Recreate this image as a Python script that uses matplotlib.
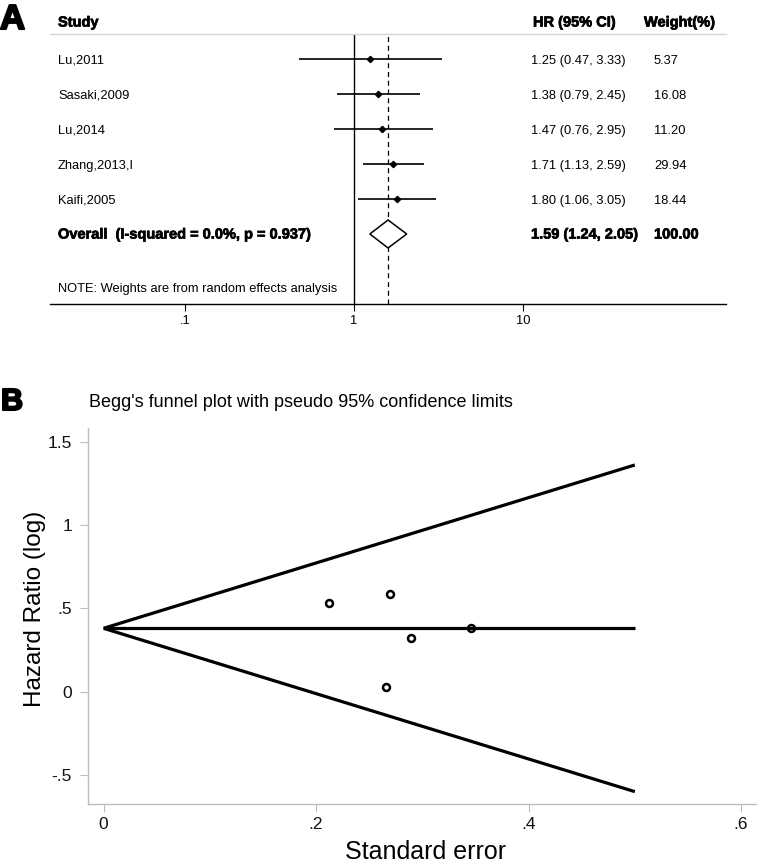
import matplotlib
matplotlib.use("Agg")
import matplotlib.pyplot as plt
import matplotlib.patheffects as pe
from matplotlib.ticker import NullLocator, FixedLocator, FixedFormatter
import matplotlib.transforms as mtrans

plt.rcParams['font.family'] = ['Liberation Sans', 'DejaVu Sans']

# ---------------- data: forest plot ----------------
studies = ['Lu,2011', 'Sasaki,2009', 'Lu,2014', 'Zhang,2013,I', 'Kaifi,2005']
hr = [1.25, 1.38, 1.47, 1.71, 1.80]
ci_lo = [0.47, 0.79, 0.76, 1.13, 1.06]
ci_hi = [3.33, 2.45, 2.95, 2.59, 3.05]
weights = [5.37, 16.08, 11.20, 29.94, 18.44]
overall_label = 'Overall  (I-squared = 0.0%, p = 0.937)'
overall_hr = 1.59
overall_lo = 1.24
overall_hi = 2.05
overall_weight = 100.00
forest_ticks = [0.1, 1, 10]
forest_ticklabels = ['.1', '1', '10']

# ---------------- data: funnel plot ----------------
study_se = [0.212, 0.270, 0.346, 0.289, 0.266]
study_loghr = [0.534, 0.588, 0.384, 0.322, 0.028]
funnel_se = [0.0, 0.5]
funnel_center = [0.38, 0.38]
funnel_upper = [0.38, 1.36]
funnel_lower = [0.38, -0.60]
funnel_xticks = [0, 0.2, 0.4, 0.6]
funnel_xticklabels = ['0', '.2', '.4', '.6']
funnel_yticks = [-0.5, 0, 0.5, 1, 1.5]
funnel_yticklabels = ['-.5', '0', '.5', '1', '1.5']

W, H = 757, 868
fig = plt.figure(figsize=(W / 100, H / 100), dpi=100)
fig.patch.set_facecolor('white')

bold_fx = [pe.withStroke(linewidth=0.5, foreground='black')]

# ================= Panel A: forest plot =================
axA = fig.add_axes([50 / W, 1 - 304 / H, 676 / W, 270 / H])
axA.set_xscale('log')
axA.set_xlim(10 ** -1.799, 10 ** 2.201)
axA.set_ylim(7.0, -0.714)
for s in ['left', 'right']:
    axA.spines[s].set_visible(False)
axA.spines['top'].set_color('#d4d4d4')
axA.spines['top'].set_linewidth(1.0)
axA.spines['bottom'].set_color('black')
axA.spines['bottom'].set_linewidth(1.0)
axA.yaxis.set_visible(False)
axA.xaxis.set_major_locator(FixedLocator(forest_ticks))
axA.xaxis.set_major_formatter(FixedFormatter(forest_ticklabels))
axA.xaxis.set_minor_locator(NullLocator())
axA.tick_params(axis='x', direction='out', length=5, width=0.8, pad=3,
                labelsize=9.3, colors='black')

axA.axvline(1, color='black', lw=1.0)
axA.axvline(overall_hr, color='black', lw=0.9, ls=(0, (4, 3)))

n = len(studies)
for i in range(n):
    axA.plot([ci_lo[i], ci_hi[i]], [i, i], color='black', lw=1.2,
             solid_capstyle='butt')
    axA.plot([hr[i]], [i], marker='D', ms=3.2, color='black')

# overall diamond
dh = 0.4
axA.fill([overall_lo, overall_hr, overall_hi, overall_hr, overall_lo],
         [n, n - dh, n, n + dh, n], facecolor='white', edgecolor='black',
         lw=1.1, zorder=3)

tA = mtrans.blended_transform_factory(axA.transAxes, axA.transData)
col_study = 8 / 676
col_hr = (531 - 50) / 676
col_hr_head = (533 - 50) / 676
col_w_head = (644 - 50) / 676
col_w = (654 - 50) / 676
boff = 0.13

axA.text(col_study, -1.057 + boff, 'Study', transform=tA, fontsize=10.5,
         fontweight='bold', va='baseline', ha='left', path_effects=bold_fx,
         clip_on=False)
axA.text(col_hr_head, -1.057 + boff, 'HR (95% CI)', transform=tA,
         fontsize=10.5, fontweight='bold', va='baseline', ha='left',
         path_effects=bold_fx, clip_on=False)
axA.text(col_w_head, -1.057 + boff, 'Weight(%)', transform=tA,
         fontsize=10.5, fontweight='bold', va='baseline', ha='left',
         path_effects=bold_fx, clip_on=False)

for i in range(n):
    axA.text(col_study, i + boff, studies[i], transform=tA, fontsize=9.3,
             va='baseline', ha='left')
    axA.text(col_hr, i + boff, f'{hr[i]:.2f} ({ci_lo[i]:.2f}, {ci_hi[i]:.2f})',
             transform=tA, fontsize=9.3, va='baseline', ha='left')
    axA.text(col_w, i + boff, f'{weights[i]:.2f}', transform=tA, fontsize=9.3,
             va='baseline', ha='left')

axA.text(col_study, n + boff, overall_label, transform=tA, fontsize=10.5,
         fontweight='bold', va='baseline', ha='left', path_effects=bold_fx)
axA.text(col_hr, n + boff,
         f'{overall_hr:.2f} ({overall_lo:.2f}, {overall_hi:.2f})',
         transform=tA, fontsize=10.5, fontweight='bold', va='baseline',
         ha='left', path_effects=bold_fx)
axA.text(col_w, n + boff, f'{overall_weight:.2f}', transform=tA,
         fontsize=10.5, fontweight='bold', va='baseline', ha='left',
         path_effects=bold_fx)
axA.text(col_study, 6.514 + boff, 'NOTE: Weights are from random effects analysis',
         transform=tA, fontsize=9.3, va='baseline', ha='left')

fig.text(0 / W, 1 - 29 / H, 'A', fontsize=25, fontweight='bold',
         va='baseline', ha='left',
         path_effects=[pe.withStroke(linewidth=1.5, foreground='black')])

# ================= Panel B: funnel plot =================
axB = fig.add_axes([88.3 / W, 1 - 804.3 / H, (W - 88.3) / W, (804.3 - 428.3) / H])
axB.set_xlim(-0.0144, 0.615)
axB.set_ylim(-0.676, 1.58)
for s in ['top', 'right']:
    axB.spines[s].set_visible(False)
for s in ['left', 'bottom']:
    axB.spines[s].set_color('#bdbdbd')
    axB.spines[s].set_linewidth(1.0)
axB.xaxis.set_major_locator(FixedLocator(funnel_xticks))
axB.xaxis.set_major_formatter(FixedFormatter(funnel_xticklabels))
axB.yaxis.set_major_locator(FixedLocator(funnel_yticks))
axB.yaxis.set_major_formatter(FixedFormatter(funnel_yticklabels))
axB.tick_params(axis='x', direction='out', length=5.8, width=0.8,
                color='#bdbdbd', labelcolor='#111111', labelsize=12.5, pad=3.4)
axB.tick_params(axis='y', direction='out', length=5.8, width=0.8,
                color='#bdbdbd', labelcolor='#111111', labelsize=12.5, pad=6)

axB.plot(funnel_se, funnel_upper, color='black', lw=2.3, solid_capstyle='butt')
axB.plot(funnel_se, funnel_lower, color='black', lw=2.3, solid_capstyle='butt')
axB.plot(funnel_se, funnel_center, color='black', lw=2.3, solid_capstyle='butt')
axB.plot(study_se, study_loghr, linestyle='none', marker='o', ms=5.0,
         mfc='none', mec='black', mew=1.8)

fig.text(89 / W, 1 - 407 / H, "Begg's funnel plot with pseudo 95% confidence limits",
         fontsize=13, va='baseline', ha='left')
fig.text(426 / W, 1 - 852 / H, 'Standard error', fontsize=18,
         va='center', ha='center')
fig.text(35 / W, 1 - 609 / H, 'Hazard Ratio (log)', fontsize=17.5,
         rotation=90, va='center', ha='center')

fig.text(1 / W, 1 - 410 / H, 'B', fontsize=22, fontweight='bold',
         va='baseline', ha='left',
         path_effects=[pe.withStroke(linewidth=1.5, foreground='black')])

fig.savefig('out.png', dpi=100, facecolor='white')
